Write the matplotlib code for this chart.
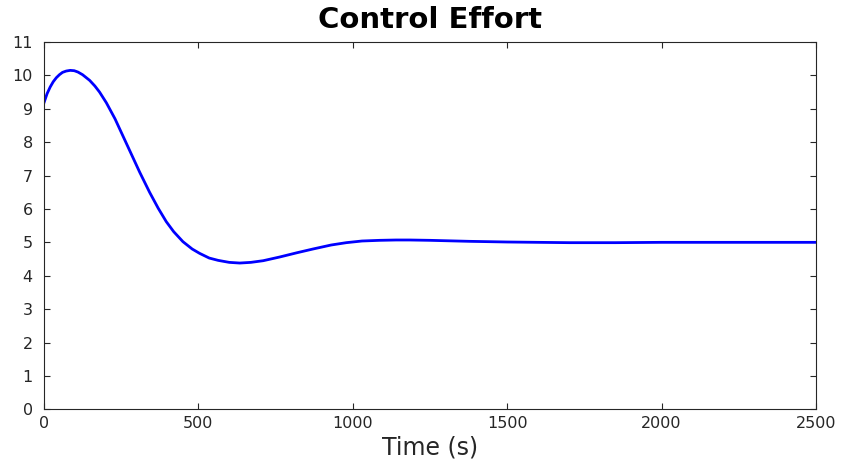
import numpy as np
import matplotlib.pyplot as plt

# values
time_s = [0, 10, 20, 30, 40, 50, 60, 72, 85, 98, 110, 125, 148, 165, 180, 202,
          230, 260, 290, 310, 342, 370, 396, 420, 450, 480, 504, 535, 564, 600,
          634, 670, 710, 763, 820, 871, 930, 979, 1030, 1087, 1140, 1184, 1250,
          1378, 1500, 1600, 1702, 1850, 2000, 2200, 2500]
effort = [9.18, 9.45, 9.65, 9.81, 9.93, 10.02, 10.09, 10.13, 10.15, 10.14,
          10.10, 10.02, 9.85, 9.68, 9.50, 9.18, 8.70, 8.10, 7.50, 7.10, 6.50,
          6.02, 5.62, 5.32, 5.02, 4.80, 4.67, 4.53, 4.46, 4.40, 4.38, 4.40, 4.45,
          4.56, 4.69, 4.80, 4.92, 4.99, 5.04, 5.06, 5.07, 5.07, 5.06, 5.03, 5.01,
          5.00, 4.99, 4.99, 5.00, 5.00, 5.00]
x_ticks = [0, 500, 1000, 1500, 2000, 2500]
y_ticks = list(range(0, 12))

plt.rcParams['font.family'] = ['DejaVu Sans']

fig = plt.figure(figsize=(8.44, 4.65), dpi=100)
ax = fig.add_axes([0.0521, 0.1198, 0.9147, 0.7899])

ax.plot(time_s, effort, color=(0, 0, 1), linewidth=2.0)

ax.set_xlim(0, 2500)
ax.set_ylim(0, 11)
ax.set_xticks(x_ticks)
ax.set_yticks(y_ticks)
ax.tick_params(direction='in', top=True, right=True, length=4, width=0.8,
               colors='#262626', labelsize=11.5, labelcolor='#262626')
ax.tick_params(axis='x', pad=5)
ax.tick_params(axis='y', pad=8)
for s in ax.spines.values():
    s.set_color('#262626')
    s.set_linewidth(0.8)

ax.set_title('Control Effort', fontsize=21, fontweight='bold', pad=10)
ax.set_xlabel('Time (s)', fontsize=17, color='#262626', labelpad=3)

fig.savefig('out.png', dpi=100)
